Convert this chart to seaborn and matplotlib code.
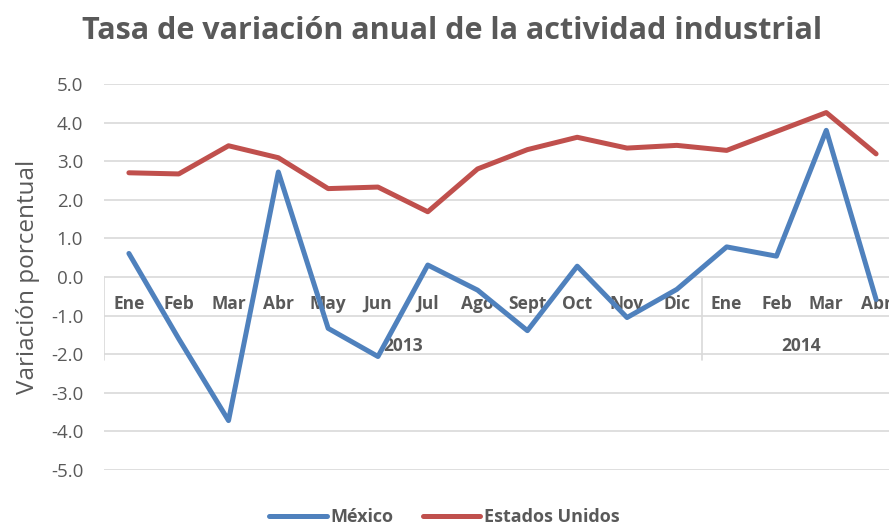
import pandas as pd
import numpy as np
import seaborn as sns
import matplotlib.pyplot as plt

# datos
meses = ['Ene', 'Feb', 'Mar', 'Abr', 'May', 'Jun', 'Jul', 'Ago', 'Sept', 'Oct', 'Nov', 'Dic',
         'Ene', 'Feb', 'Mar', 'Abr']
anios = ['2013', '2014']
meses_por_anio = [12, 4]
mexico = [0.61, -1.6, -3.72, 2.72, -1.33, -2.06, 0.31, -0.34, -1.39, 0.28, -1.05, -0.32,
          0.78, 0.54, 3.80, -0.58]
estados_unidos = [2.70, 2.67, 3.40, 3.09, 2.29, 2.33, 1.69, 2.80, 3.30, 3.62, 3.34, 3.41,
                  3.28, 3.77, 4.26, 3.19]

gris = '#595959'
sns.set_style('white')
plt.rcParams['font.family'] = ['Open Sans', 'DejaVu Sans']

df = pd.DataFrame({
    'i': list(range(len(meses))) * 2,
    'valor': mexico + estados_unidos,
    'serie': ['México'] * len(meses) + ['Estados Unidos'] * len(meses),
})

fig = plt.figure(figsize=(8.89, 5.30), dpi=100)
ax = fig.add_axes([104 / 889, 1 - 470 / 530, 797 / 889, 386 / 530])

sns.lineplot(data=df, x='i', y='valor', hue='serie', palette=['#4F81BD', '#C0504D'],
             linewidth=3.6, ax=ax, legend=True)

ax.set_xlim(-0.5, len(meses) - 0.5)
ax.set_ylim(-5, 5)
ax.set_yticks(np.arange(-5, 5.1, 1))
ax.set_yticklabels([f'{v:.1f}' for v in np.arange(-5, 5.1, 1)], fontsize=13.5, color=gris)
ax.tick_params(axis='y', length=0, pad=15)
ax.set_xticks([])
ax.set_xlabel('')
ax.set_ylabel('Variación porcentual', fontsize=17.5, color=gris, labelpad=8)
ax.yaxis.grid(True, color='#D9D9D9', linewidth=1.2)
ax.set_axisbelow(True)
for s in ax.spines.values():
    s.set_visible(False)

# etiquetas de categorías
for i, m in enumerate(meses):
    ax.text(i, -0.7, m, ha='center', va='center', fontsize=12.5, fontweight='bold', color=gris,
            zorder=1)
inicio = 0
for a, n in zip(anios, meses_por_anio):
    ax.text(inicio + (n - 1) / 2, -1.8, a, ha='center', va='center', fontsize=12.5,
            fontweight='bold', color=gris, zorder=1)
    ax.plot([inicio - 0.5, inicio - 0.5], [0, -2.15], color='#D9D9D9', linewidth=1.2, zorder=0)
    inicio += n

ax.get_legend().remove()
h, l = ax.get_legend_handles_labels()
fig.legend(h, l, loc='lower center', bbox_to_anchor=(0.5, -0.024), ncol=2, frameon=False,
           prop={'size': 13, 'weight': 'bold'}, labelcolor=gris, handlelength=3.2,
           handletextpad=0.2, columnspacing=1.6)

fig.suptitle('Tasa de variación anual de la actividad industrial', x=0.508, y=0.97,
             fontsize=22, fontweight='bold', color=gris)

fig.savefig('out.png', dpi=100)
